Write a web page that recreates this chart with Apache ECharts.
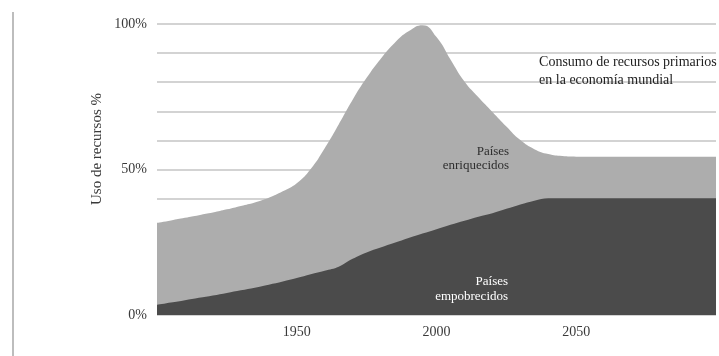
<!DOCTYPE html>
<html>
<head>
<meta charset="utf-8">
<script src="https://cdn.jsdelivr.net/npm/echarts@6/dist/echarts.min.js"></script>
<style>
html,body{margin:0;padding:0;background:#fff;}
#chart{width:719px;height:356px;}
</style>
</head>
<body>
<div id="chart"></div>
<script>
// Data (every 5 years)
var years = [1900, 1905, 1910, 1915, 1920, 1925, 1930, 1935, 1940, 1945, 1950, 1955, 1960, 1965, 1970, 1975, 1980, 1985, 1990, 1995, 2000, 2005, 2010, 2015, 2020, 2025, 2030, 2035, 2040, 2045, 2050, 2075, 2100];
var totalValues = [31.7, 32.5, 33.4, 34.3, 35.2, 36.3, 37.5, 38.7, 40.3, 42.5, 45.3, 50.2, 57.3, 65.5, 74, 81.5, 88, 93.5, 97.5, 99.6, 95.5, 87.8, 80.2, 74.8, 69.8, 64.8, 60.1, 57, 55.3, 54.6, 54.4, 54.4, 54.4];
var poorValues = [3.5, 4.3, 5.1, 5.9, 6.7, 7.6, 8.5, 9.4, 10.4, 11.5, 12.7, 14, 15.2, 16.6, 19.3, 21.5, 23.2, 24.8, 26.5, 28, 29.5, 31, 32.4, 33.8, 35, 36.5, 38, 39.3, 40.1, 40.1, 40.1, 40.1, 40.1];
var yTickLabels = {0: '0%', 50: '50%', 100: '100%'};
var xTickLabels = {1950: '1950', 2000: '2000', 2050: '2050'};
var yAxisTitle = 'Uso de recursos %';
var richLabel = 'Países\nenriquecidos';
var poorLabel = 'Países\nempobrecidos';
var titleLabel = 'Consumo de recursos primarios\nen la economía mundial';

function pairs(xs, ys) { return xs.map(function (x, i) { return [x, ys[i]]; }); }

var FONT = '"Liberation Serif", "DejaVu Serif", serif';
var chart = echarts.init(document.getElementById('chart'), null, {renderer: 'canvas'});
var option = {
  animation: false,
  backgroundColor: '#ffffff',
  grid: {left: 157, right: 2, top: 24, bottom: 41},
  xAxis: {
    type: 'value', min: 1900, max: 2100, interval: 50,
    axisLine: {show: false}, axisTick: {show: false}, splitLine: {show: false},
    axisLabel: {
      margin: 10, color: '#3a3a3a', fontFamily: FONT, fontSize: 14,
      formatter: function (v) { return xTickLabels[v] || ''; }
    }
  },
  yAxis: {
    type: 'value', min: 0, max: 100, interval: 10,
    axisLine: {show: false}, axisTick: {show: false},
    splitLine: {show: true, lineStyle: {color: '#c4c4c4', width: 1.5}},
    axisLabel: {
      margin: 10, color: '#3a3a3a', fontFamily: FONT, fontSize: 14,
      formatter: function (v) { return yTickLabels[v] || ''; }
    }
  },
  series: [
    {
      type: 'line', data: pairs(years, totalValues), smooth: 0.5,
      symbol: 'none', lineStyle: {width: 0}, areaStyle: {color: '#adadad', opacity: 1}, z: 2
    },
    {
      type: 'line', data: pairs(years, poorValues), smooth: 0.4,
      symbol: 'none', lineStyle: {width: 0}, areaStyle: {color: '#4b4b4b', opacity: 1}, z: 3
    }
  ]
};
chart.setOption(option);

var pRich = chart.convertToPixel({gridIndex: 0}, [2026, 53.6]);
var pPoor = chart.convertToPixel({gridIndex: 0}, [2025.6, 8.8]);
var pTitle = chart.convertToPixel({gridIndex: 0}, [2036.7, 83.8]);

chart.setOption({
  graphic: [
    {type: 'line', shape: {x1: 13, y1: 12, x2: 13, y2: 356}, style: {stroke: '#bdbdbd', lineWidth: 2}},
    {type: 'text', x: 97, y: 149, rotation: Math.PI / 2,
     style: {text: yAxisTitle, fill: '#3a3a3a', font: '15px ' + FONT, textAlign: 'center', textVerticalAlign: 'middle'}},
    {type: 'text', x: pRich[0], y: pRich[1], z: 10,
     style: {text: richLabel, fill: '#2e2e2e', font: '13px ' + FONT, textAlign: 'right', textVerticalAlign: 'middle', lineHeight: 14}},
    {type: 'text', x: pPoor[0], y: pPoor[1], z: 10,
     style: {text: poorLabel, fill: '#ffffff', font: '13px ' + FONT, textAlign: 'right', textVerticalAlign: 'middle', lineHeight: 15}},
    {type: 'text', x: pTitle[0], y: pTitle[1], z: 10,
     style: {text: titleLabel, fill: '#222222', font: '14px ' + FONT, textAlign: 'left', textVerticalAlign: 'middle', lineHeight: 18}}
  ]
});
</script>
</body>
</html>
